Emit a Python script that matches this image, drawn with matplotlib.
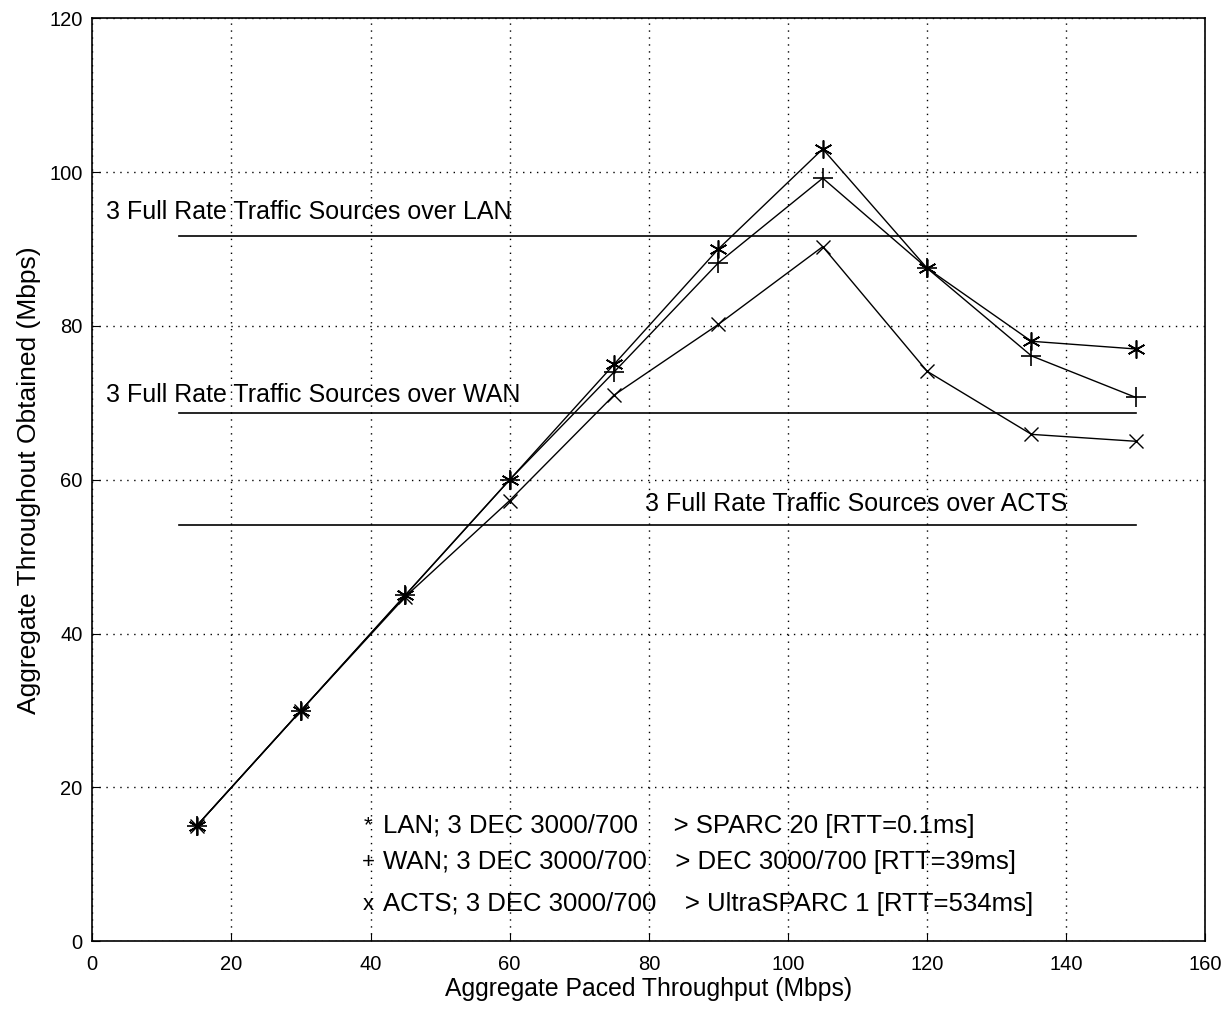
import matplotlib.pyplot as plt

# Measured data
paced = [15, 30, 45, 60, 75, 90, 105, 120, 135, 150]
lan = [15, 30, 45, 60, 75, 90, 103, 87.5, 78, 77]
wan = [15, 30, 45, 60, 74, 88.2, 99.2, 87.5, 76.1, 70.7]
acts = [15, 30, 44.8, 57.3, 71, 80.2, 90.3, 74.1, 65.9, 65.0]

# Full rate reference levels
full_rate = [91.7, 68.7, 54.1]
full_rate_labels = [
    "3 Full Rate Traffic Sources over LAN",
    "3 Full Rate Traffic Sources over WAN",
    "3 Full Rate Traffic Sources over ACTS",
]
legend_labels = [
    "LAN; 3 DEC 3000/700     > SPARC 20 [RTT=0.1ms]",
    "WAN; 3 DEC 3000/700    > DEC 3000/700 [RTT=39ms]",
    "ACTS; 3 DEC 3000/700    > UltraSPARC 1 [RTT=534ms]",
]

plt.rcParams["font.family"] = ["Liberation Sans", "DejaVu Sans"]

fig = plt.figure(figsize=(12.3, 10.1), dpi=100)
ax = fig.add_axes([0.075, 0.068, 0.905, 0.914])

# Curves
ax.plot(paced, lan, color="black", linewidth=1, marker=(6, 2, 0),
        markersize=13, markeredgewidth=1.2)
ax.plot(paced, wan, color="black", linewidth=1, marker="+",
        markersize=14, markeredgewidth=1.2)
ax.plot(paced, acts, color="black", linewidth=1, marker="x",
        markersize=10, markeredgewidth=1.0)

# Full rate lines
for level in full_rate:
    ax.plot([12.5, 150], [level, level], color="black", linewidth=1.2)

ax.text(2, 94.8, full_rate_labels[0], fontsize=18, va="center")
ax.text(2, 71.0, full_rate_labels[1], fontsize=18, va="center")
ax.text(79.5, 56.9, full_rate_labels[2], fontsize=18, va="center")

# Legend drawn as text (no box)
leg_y = [15.0, 10.3, 4.8]
leg_marker = ["*", "+", "x"]
for y, m, lab in zip(leg_y, leg_marker, legend_labels):
    ax.text(39.7, y, m, fontsize=16, ha="center", va="center")
    ax.text(41.8, y, lab, fontsize=18.5, va="center")

ax.set_xlim(0, 160)
ax.set_ylim(0, 120)
ax.set_xticks(range(0, 161, 20))
ax.set_yticks(range(0, 121, 20))
ax.tick_params(labelsize=14.5, direction="in", length=6)
ax.tick_params(axis="x", pad=10)
ax.tick_params(axis="y", pad=7)
ax.grid(True, linestyle=(0, (1, 4)), color="black", linewidth=1)
for s in ax.spines.values():
    s.set_linewidth(1.2)

ax.set_xlabel("Aggregate Paced Throughput (Mbps)", fontsize=17.8, labelpad=2)
ax.set_ylabel("Aggregate Throughout Obtained (Mbps)", fontsize=19, labelpad=6)

plt.savefig("out.png", dpi=100)
